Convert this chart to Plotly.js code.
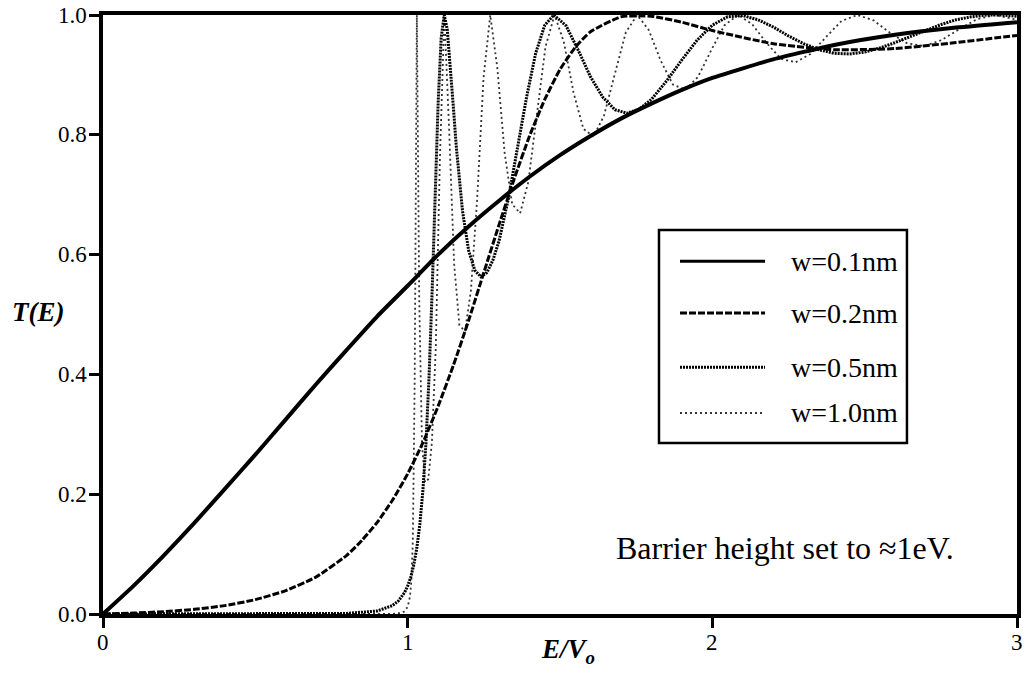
<!DOCTYPE html>
<html>
<head>
<meta charset="utf-8">
<script src="https://cdn.plot.ly/plotly-3.0.1.min.js"></script>
<style>html,body{margin:0;padding:0;background:#fff;}#chart{width:1027px;height:674px;}</style>
</head>
<body>
<div id="chart"></div>
<script>
// ---- data ----
const seriesNames = ['w=0.1nm', 'w=0.2nm', 'w=0.5nm', 'w=1.0nm'];

const E_w01 = [0,0.1,0.2,0.3,0.4,0.5,0.6,0.7,0.8,0.9,1.0,1.1,1.2,1.3,1.4,1.5,1.6,1.7,1.8,1.9,2.0,2.2,2.4,2.6,2.8,3.0];
const T_w01 = [0,0.047,0.098,0.152,0.209,0.266,0.325,0.384,0.441,0.497,0.548,0.600,0.647,0.690,0.730,0.766,0.798,0.827,0.852,0.875,0.895,0.926,0.950,0.967,0.979,0.988];

const E_w02 = [0,0.1,0.2,0.3,0.4,0.5,0.6,0.7,0.8,0.85,0.9,0.95,1.0,1.05,1.1,1.15,1.2,1.25,1.3,1.35,1.4,1.45,1.5,1.55,1.6,1.7,1.8,1.9,2.0,2.2,2.4,2.6,2.8,3.0];
const T_w02 = [0,0.0015,0.0039,0.0078,0.014,0.024,0.039,0.062,0.098,0.123,0.153,0.190,0.234,0.286,0.347,0.415,0.490,0.570,0.650,0.727,0.798,0.859,0.909,0.946,0.972,0.997,0.998,0.988,0.974,0.952,0.942,0.944,0.954,0.966];

const E_w05 = [0,0.8,0.9,0.95,0.97,0.99,1.0,1.01,1.02,1.03,1.04,1.05,1.06,1.07,1.08,1.09,1.10,1.11,1.12,1.13,1.14,1.15,1.16,1.18,1.20,1.22,1.24,1.26,1.28,1.30,1.33,1.36,1.39,1.42,1.45,1.48,1.52,1.56,1.60,1.64,1.68,1.72,1.76,1.80,1.85,1.90,1.95,2.00,2.05,2.10,2.15,2.20,2.25,2.30,2.35,2.40,2.45,2.50,2.55,2.60,2.65,2.70,2.75,2.80,2.85,2.90,2.95,3.00];
const T_w05 = [0,0.001,0.005,0.014,0.022,0.036,0.047,0.061,0.082,0.110,0.150,0.206,0.285,0.394,0.534,0.695,0.853,0.962,1.000,0.976,0.916,0.846,0.778,0.673,0.607,0.574,0.563,0.570,0.591,0.623,0.692,0.775,0.862,0.936,0.983,1.000,0.982,0.941,0.897,0.863,0.842,0.836,0.843,0.859,0.890,0.925,0.958,0.983,0.997,0.999,0.992,0.980,0.965,0.952,0.942,0.936,0.935,0.938,0.945,0.954,0.964,0.975,0.984,0.992,0.997,1.000,1.000,0.998];

const E_w10 = [0,0.9,0.95,0.98,0.99,1.0000,1.0005,1.0019,1.0042,1.0075,1.0118,1.0169,1.0231,1.0301,1.0381,1.0471,1.0570,1.0678,1.0796,1.0923,1.1059,1.1205,1.1361,1.1525,1.1699,1.1883,1.2076,1.2278,1.2490,1.2711,1.2942,1.3182,1.3432,1.3691,1.3959,1.4237,1.4524,1.4820,1.5126,1.5442,1.5767,1.6101,1.6444,1.6797,1.7160,1.7532,1.7913,1.8304,1.8704,1.9114,1.9532,1.9961,2.0399,2.0846,2.1302,2.1769,2.2244,2.2729,2.3223,2.3727,2.4240,2.4762,2.5294,2.5836,2.6386,2.6947,2.7516,2.8095,2.8684,2.9282,2.9889,3.0];
const T_w10 = [0,0,0.0002,0.0019,0.0045,0.012,0.013,0.015,0.020,0.029,0.053,0.121,0.392,1.000,0.520,0.283,0.220,0.225,0.287,0.446,0.762,1.000,0.809,0.584,0.482,0.472,0.540,0.691,0.895,1.000,0.912,0.770,0.684,0.669,0.721,0.828,0.947,1.000,0.955,0.871,0.810,0.797,0.832,0.901,0.971,1.000,0.975,0.924,0.884,0.875,0.897,0.941,0.983,1.000,0.985,0.954,0.927,0.921,0.935,0.963,0.990,1.000,0.991,0.970,0.953,0.948,0.958,0.976,0.993,1.000,0.994,0.992];

const xTickVals = [0, 1, 2, 3];
const xTickText = ['0', '1', '2', '3'];
const yTickVals = [0, 0.2, 0.4, 0.6, 0.8, 1.0];
const yTickText = ['0.0', '0.2', '0.4', '0.6', '0.8', '1.0'];

// ---- styles ----
const styles = [
  {color: '#000', width: 4,   dash: 'solid',   shape: 'spline'},
  {color: '#000', width: 3,   dash: '7px,2px', shape: 'spline'},
  {color: '#000', width: 3,   dash: '2px,1px', shape: 'linear'},
  {color: '#333', width: 1.8, dash: '2px,3px', shape: 'linear'}
];
const xs = [E_w01, E_w02, E_w05, E_w10];
const ys = [T_w01, T_w02, T_w05, T_w10];

const traces = xs.map((x, i) => ({
  x: x, y: ys[i], type: 'scatter', mode: 'lines', name: seriesNames[i],
  showlegend: false,
  line: {color: styles[i].color, width: styles[i].width, dash: styles[i].dash, shape: styles[i].shape, smoothing: 0.5}
}));
traces.reverse();

const serif = 'Liberation Serif';

// custom legend (paper coordinates)
const legRowsY = [0.589, 0.5025, 0.412, 0.3356];
const shapes = [{
  type: 'rect', xref: 'paper', yref: 'paper', x0: 0.6083, x1: 0.8796, y0: 0.2855, y1: 0.6411,
  line: {color: '#000', width: 2.5}, fillcolor: '#fff', layer: 'above'
}];
const annotations = [];
seriesNames.forEach((nm, i) => {
  shapes.push({type: 'line', xref: 'paper', yref: 'paper', x0: 0.6313, x1: 0.7243, y0: legRowsY[i], y1: legRowsY[i],
    line: {color: styles[i].color, width: Math.min(styles[i].width, 3), dash: styles[i].dash}, layer: 'above'});
  annotations.push({xref: 'paper', yref: 'paper', x: 0.7505, y: legRowsY[i], xanchor: 'left', yanchor: 'middle',
    text: nm, showarrow: false, font: {family: serif, size: 28, color: '#000'}});
});
annotations.push({xref: 'paper', yref: 'paper', x: 0.7462, y: 0.1102, xanchor: 'center', yanchor: 'middle',
  text: 'Barrier height set to \u22481eV.', showarrow: false, font: {family: serif, size: 32, color: '#000'}});
annotations.push({xref: 'paper', yref: 'paper', x: -0.0711, y: 0.504, xanchor: 'center', yanchor: 'middle',
  text: '<b><i>T(E)</i></b>', showarrow: false, font: {family: serif, size: 27, color: '#000'}});
annotations.push({xref: 'paper', yref: 'paper', x: 0.5088, y: -0.062, xanchor: 'center', yanchor: 'middle',
  text: '<b><i>E/V<sub>o</sub></i></b>', showarrow: false, font: {family: serif, size: 27, color: '#000'}});

// tick labels as text placed at the axis tick values
xTickVals.forEach((v, i) => annotations.push({xref: 'x', yref: 'paper', x: v, y: -0.047, xanchor: 'center', yanchor: 'middle',
  text: xTickText[i], showarrow: false, font: {family: serif, size: 23, color: '#000'}}));
yTickVals.forEach((v, i) => annotations.push({xref: 'paper', yref: 'y', x: -0.015, y: v, xanchor: 'right', yanchor: 'middle',
  text: yTickText[i], showarrow: false, font: {family: serif, size: 23, color: '#000'}}));

function axisBase() {
  return {
    showline: true, linecolor: '#000', linewidth: 4, mirror: true,
    ticks: 'outside', ticklen: 10, tickwidth: 3, tickcolor: '#000',
    showgrid: false, zeroline: false, fixedrange: true, showticklabels: false
  };
}

const layout = {
  width: 1027, height: 674,
  font: {family: serif, size: 22, color: '#000'},
  margin: {l: 103, r: 10, t: 15, b: 60},
  paper_bgcolor: '#fff', plot_bgcolor: '#fff',
  showlegend: false,
  xaxis: Object.assign(axisBase(), {range: [0, 3], tickmode: 'array', tickvals: xTickVals}),
  yaxis: Object.assign(axisBase(), {range: [0, 1], tickmode: 'array', tickvals: yTickVals}),
  shapes: shapes,
  annotations: annotations
};

Plotly.newPlot('chart', traces, layout, {displayModeBar: false, staticPlot: true});
</script>
</body>
</html>
